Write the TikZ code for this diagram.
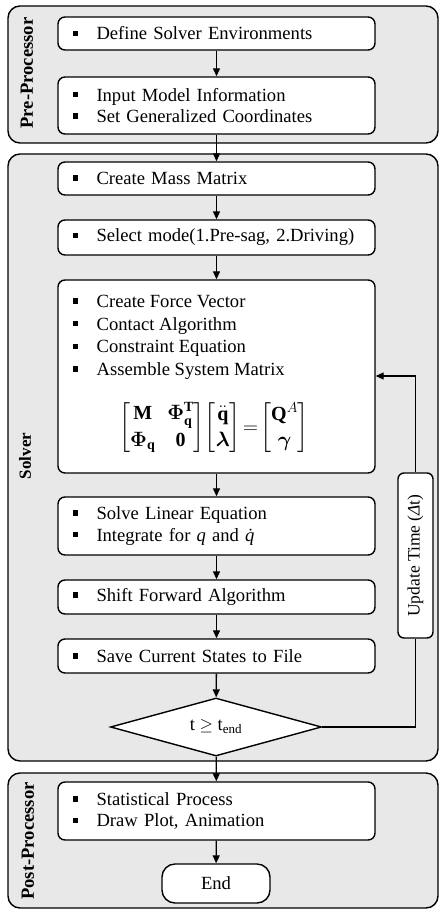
\documentclass[tikz,border=0pt]{standalone}
\usepackage{fontspec}
\setmainfont{Liberation Serif}
\usepackage{amsmath,bm}
\usetikzlibrary{arrows.meta,shapes.geometric}
\definecolor{panelgray}{RGB}{232,232,232}
% square bullet followed by the item text
\newcommand{\bul}{\makebox[24pt][l]{\rule[0.2em]{5.5pt}{5.5pt}}}

\begin{document}
\begin{tikzpicture}[x=1pt,y=-1pt,
  font=\fontsize{18.6}{21.5}\selectfont,
  panel/.style={draw, line width=1.4pt, fill=panelgray, rounded corners=12pt,
    minimum width=430pt, inner sep=0pt},
  stepbox/.style={draw, line width=1.4pt, fill=white, rounded corners=7pt,
    text width=288pt, align=left, inner xsep=14.5pt, inner ysep=0pt},
  grouplabel/.style={rotate=90, font=\bfseries\fontsize{18.6}{20}\selectfont},
  flow/.style={line width=1.3pt, -{Triangle[length=8pt,width=7pt]}},
  plain/.style={line width=1.3pt}
]
\useasboundingbox (0,0) rectangle (442,909);

% stage panels
\node[panel, minimum height=137pt] (pre) at (223,74.5) {};
\node[panel, minimum height=607pt] (solver) at (223,457.5) {};
\node[panel, minimum height=135pt] (postp) at (223,840.5) {};

\node[grouplabel] (prelbl) at (27,73) {Pre-Processor};
\node[grouplabel, font=\bfseries\fontsize{17}{18}\selectfont] (sollbl) at (25,456) {Solver};
\node[grouplabel] (postlbl) at (28,841) {Post-Processor};

% pre-processor steps
\node[stepbox, minimum height=33pt] (def) at (216.5,33.5) {\bul Define Solver Environments};
\node[stepbox, minimum height=57pt] (inp) at (216.5,105.5)
  {\bul Input Model Information\\ \bul Set Generalized Coordinates};

% solver steps
\node[stepbox, minimum height=33pt] (mass) at (216.5,178.5) {\bul Create Mass Matrix};
\node[stepbox, minimum height=35pt] (sel) at (216.5,237.5) {\bul Select mode(1.Pre-sag, 2.Driving)};
\node[stepbox, minimum height=193pt] (sys) at (216.5,376.5) {};
\node[anchor=north west, inner sep=0pt, align=left,
  font=\fontsize{18.6}{22.7}\selectfont] (sysitems) at (72.5,295)
  {\bul Create Force Vector\\ \bul Contact Algorithm\\ \bul Constraint Equation\\ \bul Assemble System Matrix};
\node[inner sep=0pt, font=\fontsize{20}{24}\selectfont] (sysmat) at (214,428)
  {\renewcommand{\arraystretch}{1.1}\setlength{\arraycolsep}{6pt}%
   $\begin{bmatrix} \mathbf{M} & \bm{\Phi}_{\mathbf q}^{\mathbf T} \\ \bm{\Phi}_{\mathbf q} & \mathbf{0} \end{bmatrix}
    \!\begin{bmatrix} \ddot{\mathbf q} \\ \bm{\lambda} \end{bmatrix}
    \!=\!
    \begin{bmatrix} \mathbf{Q}^{A} \\ \bm{\gamma} \end{bmatrix}$};
\node[stepbox, minimum height=58pt] (solve) at (216.5,526)
  {\bul Solve Linear Equation\\ \bul Integrate for \textit{q} and \textit{\.q}};
\node[stepbox, minimum height=34pt] (shift) at (216.5,597) {\bul Shift Forward Algorithm};
\node[stepbox, minimum height=34pt] (save) at (216.5,656) {\bul Save Current States to File};
\node[diamond, draw, line width=1.4pt, fill=white, aspect=3.64, inner sep=0pt,
  minimum width=211pt, minimum height=58pt] (dec) at (216,727) {t $\geq$ t\textsubscript{end}};
\node[draw, line width=1.4pt, fill=white, rounded corners=6pt, rotate=90,
  minimum width=165pt, minimum height=35pt, inner sep=0pt,
  font=\fontsize{17.5}{20}\selectfont] (upd) at (415.5,555.5)
  {Update Time (\textit{Δ}t)};

% post-processor steps
\node[stepbox, minimum height=58pt] (post) at (216.5,811)
  {\bul Statistical Process\\ \bul Draw Plot, Animation};
\node[draw, line width=1.4pt, fill=white, rounded corners=13pt,
  minimum width=108pt, minimum height=39pt] (end) at (216,883.5) {End};

% flow
\draw[flow] (def) -- (inp);
\draw[flow] (inp) -- (mass);
\draw[flow] (mass) -- (sel);
\draw[flow] (sel) -- (sys);
\draw[flow] (sys) -- (solve);
\draw[flow] (solve) -- (shift);
\draw[flow] (shift) -- (save);
\draw[flow] (save) -- (dec);
\draw[flow] (dec) -- (post);
\draw[flow] (post) -- (end);

% time-step loop (the box is turned, so its west anchor is at the bottom)
\draw[plain] (dec.east) -| (upd.west);
\draw[flow] (upd.east) |- (sys.east |- 0,376);
\end{tikzpicture}
\end{document}
